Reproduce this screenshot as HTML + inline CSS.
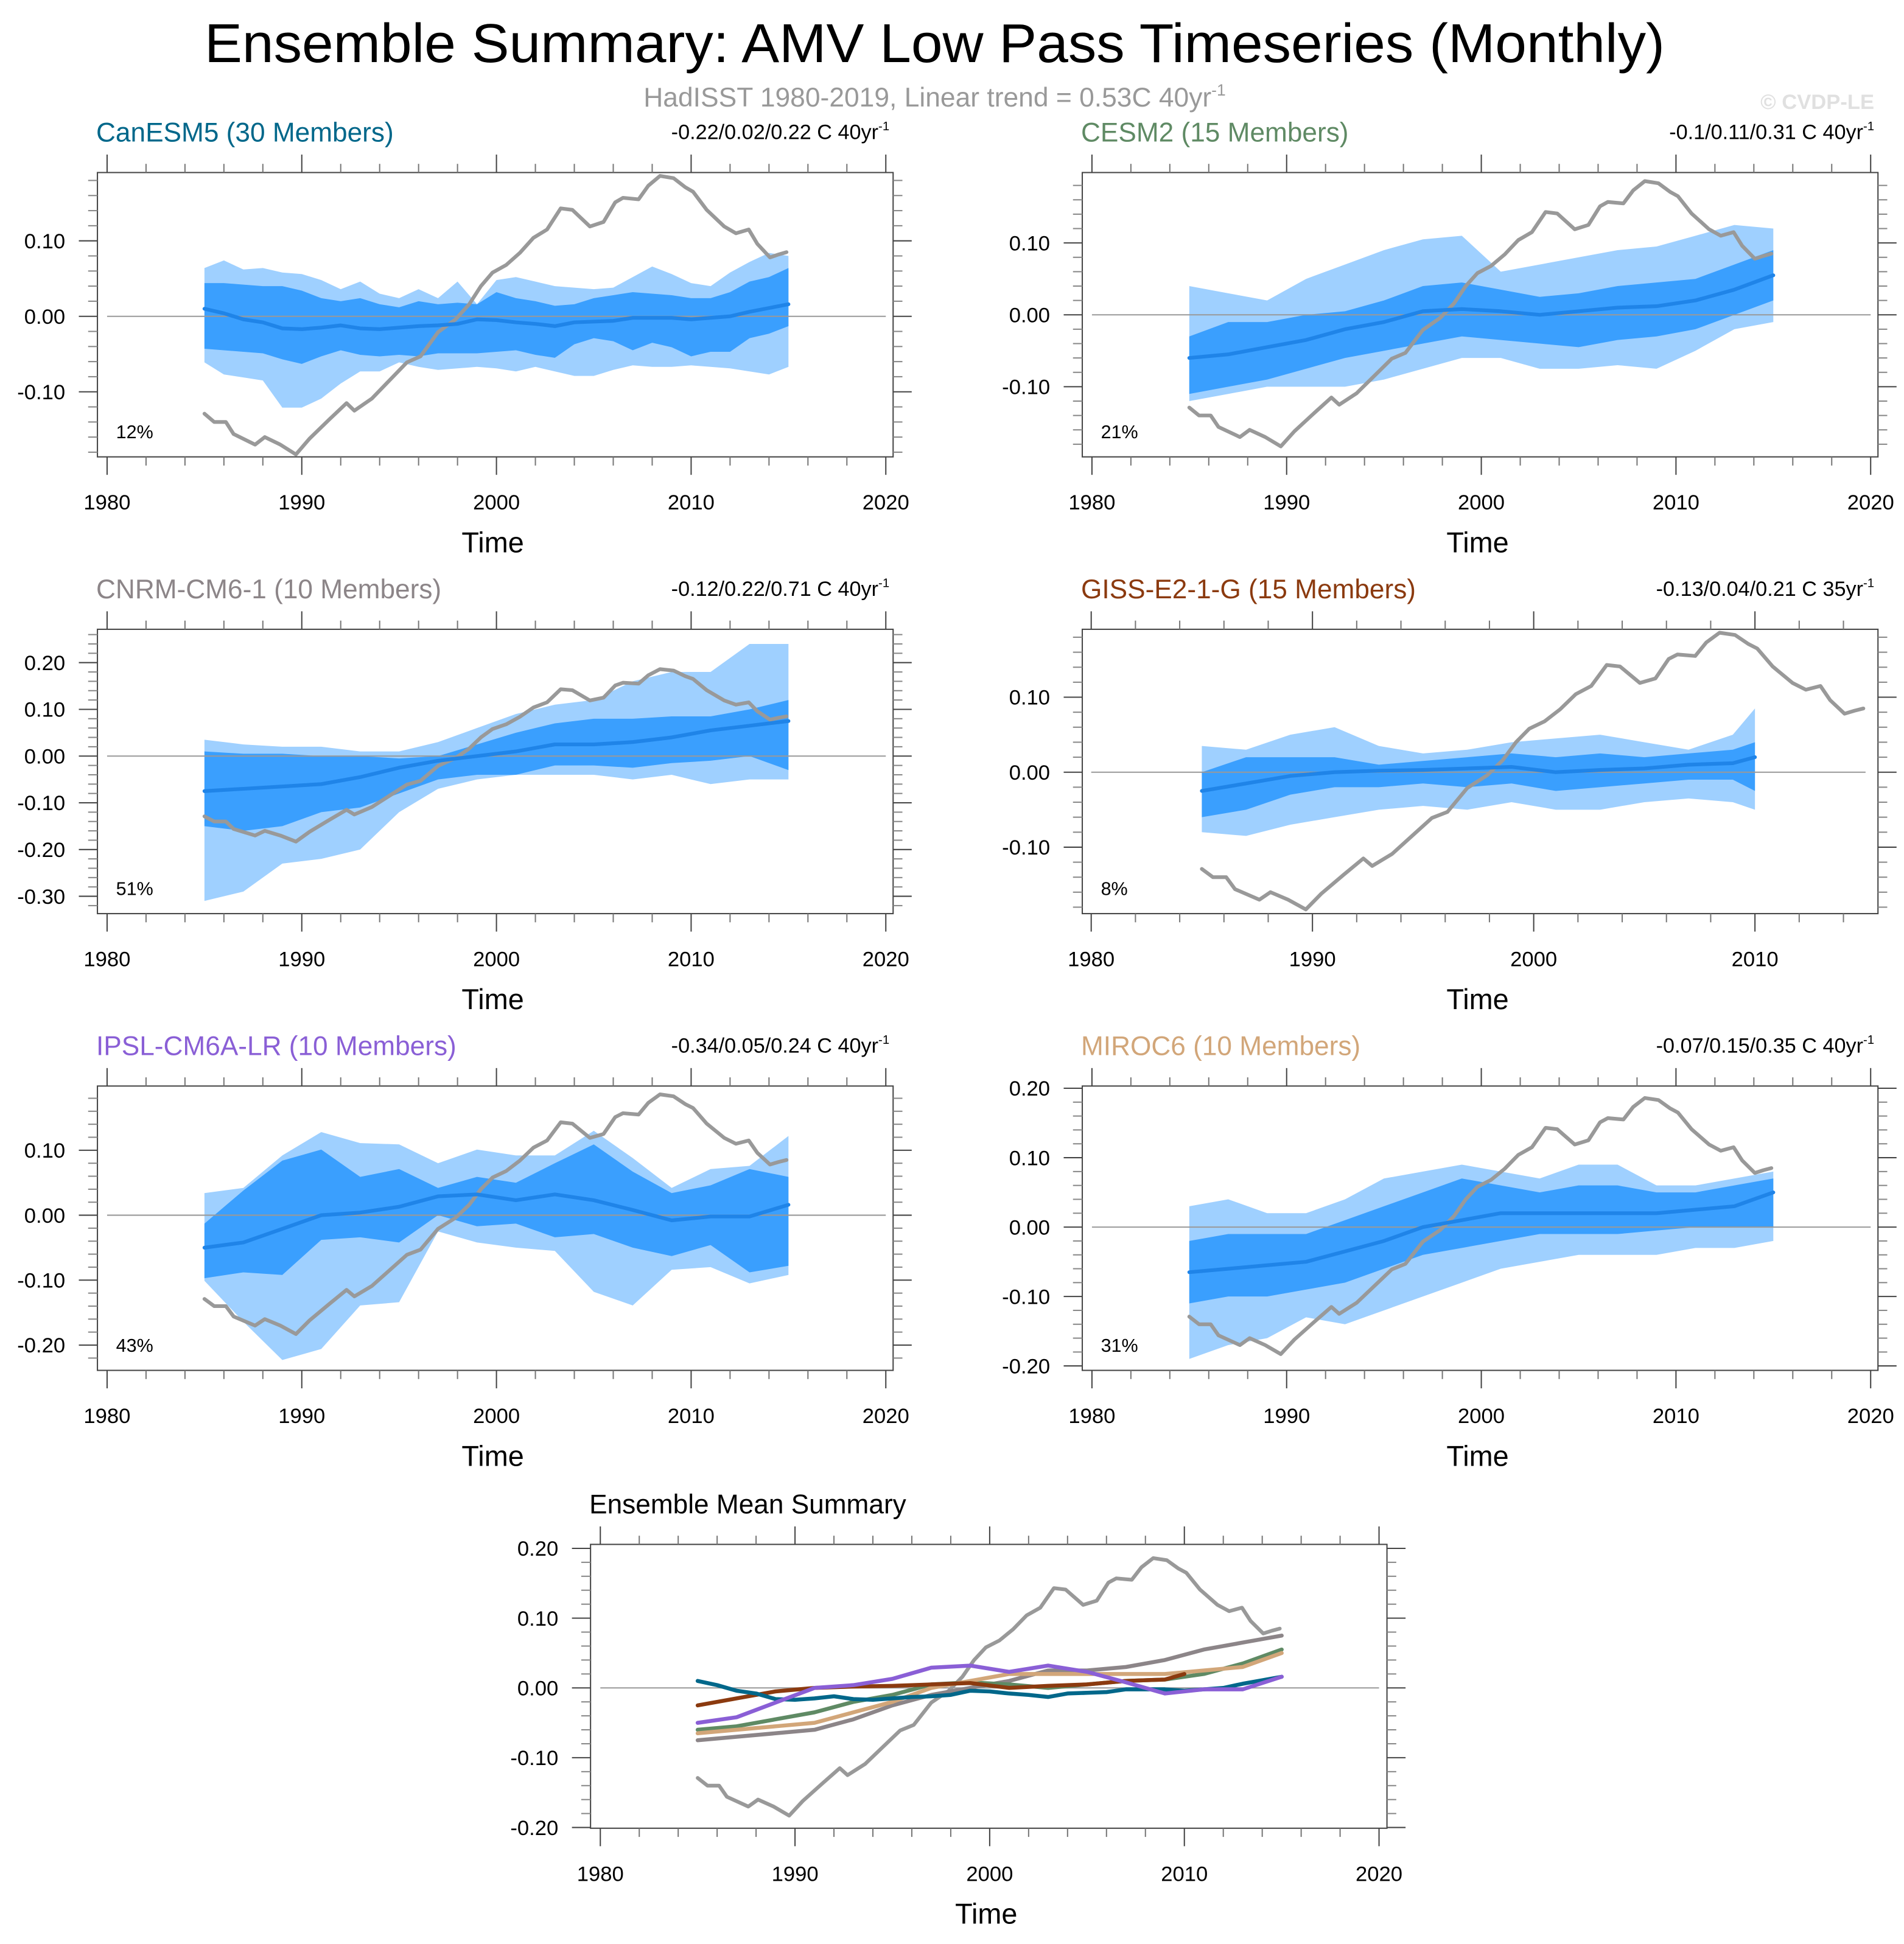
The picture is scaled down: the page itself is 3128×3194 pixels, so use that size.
<!DOCTYPE html>
<html><head><meta charset="utf-8"><style>
html,body{margin:0;padding:0;background:#fff;}
svg{display:block;}
text{font-family:"Liberation Sans",Arial,sans-serif;}
</style></head><body>
<svg id="fig" xmlns="http://www.w3.org/2000/svg" width="3128" height="3194" viewBox="0 0 1536 1568.4" preserveAspectRatio="none">
<text x="754" y="50" font-size="44" text-anchor="middle" textLength="1178" lengthAdjust="spacingAndGlyphs">Ensemble Summary: AMV Low Pass Timeseries (Monthly)</text>
<text x="754" y="86" font-size="21.8" fill="#999" text-anchor="middle">HadISST 1980-2019, Linear trend = 0.53C 40yr<tspan font-size="13" dy="-9">-1</tspan></text>
<text x="1512" y="88" font-size="17" font-weight="bold" fill="#e0e0e0" text-anchor="end">© CVDP-LE</text>
<g id="root"></g>
</svg>
<script>
// Observations (HadISST)
const obsYears=[1985,1985.5,1986.1,1986.5,1987.6,1988.1,1988.9,1989.7,1990.4,1991.4,1992.3,1992.7,1993.6,1994.5,1995.4,1996.1,1997,1997.9,1998.6,1999.2,1999.8,2000.5,2001.2,2001.9,2002.6,2003.3,2003.9,2004.8,2005.5,2006.1,2006.5,2007.3,2007.8,2008.4,2009.1,2009.7,2010.1,2010.8,2011.7,2012.3,2012.96,2013.4,2014.05,2014.5,2014.9];
const obsValues=[-0.129,-0.140,-0.140,-0.156,-0.170,-0.160,-0.170,-0.183,-0.162,-0.137,-0.115,-0.125,-0.109,-0.085,-0.061,-0.053,-0.021,-0.004,0.016,0.040,0.058,0.068,0.084,0.104,0.115,0.143,0.141,0.119,0.125,0.151,0.157,0.155,0.173,0.186,0.183,0.171,0.165,0.141,0.119,0.110,0.115,0.096,0.078,0.082,0.085];

// CanESM5
const canYears=[1985,1986,1987,1988,1989,1990,1991,1992,1993,1994,1995,1996,1997,1998,1999,2000,2001,2002,2003,2004,2005,2006,2007,2008,2009,2010,2011,2012,2013,2014,2015];
const canOuterHi=[0.064,0.074,0.062,0.064,0.058,0.056,0.048,0.036,0.046,0.030,0.024,0.036,0.024,0.046,0.016,0.048,0.052,0.046,0.040,0.038,0.036,0.038,0.052,0.066,0.056,0.044,0.040,0.058,0.072,0.084,0.080];
const canInnerHi=[0.044,0.044,0.042,0.040,0.040,0.034,0.024,0.020,0.024,0.016,0.012,0.020,0.016,0.018,0.016,0.032,0.024,0.020,0.014,0.016,0.024,0.028,0.032,0.030,0.028,0.024,0.024,0.032,0.046,0.052,0.064];
const canMean=[0.010,0.004,-0.004,-0.008,-0.016,-0.017,-0.015,-0.012,-0.016,-0.017,-0.015,-0.013,-0.012,-0.010,-0.004,-0.005,-0.008,-0.010,-0.013,-0.008,-0.007,-0.006,-0.002,-0.002,-0.002,-0.004,-0.002,0.000,0.006,0.011,0.016];
const canInnerLo=[-0.043,-0.045,-0.047,-0.049,-0.057,-0.063,-0.053,-0.045,-0.051,-0.053,-0.051,-0.053,-0.049,-0.049,-0.049,-0.047,-0.045,-0.051,-0.055,-0.037,-0.029,-0.033,-0.045,-0.035,-0.041,-0.053,-0.047,-0.047,-0.029,-0.023,-0.013];
const canOuterLo=[-0.061,-0.077,-0.081,-0.085,-0.121,-0.121,-0.109,-0.089,-0.073,-0.073,-0.061,-0.067,-0.071,-0.069,-0.067,-0.069,-0.073,-0.067,-0.073,-0.079,-0.079,-0.071,-0.065,-0.067,-0.067,-0.065,-0.067,-0.069,-0.073,-0.077,-0.067];

// Biennial years used for other models
const biYears=[1985,1987,1989,1991,1993,1995,1997,1999,2001,2003,2005,2007,2009,2011,2013,2015];

// CESM2
const cesmMean=[-0.060,-0.055,-0.045,-0.035,-0.020,-0.010,0.005,0.008,0.005,0.000,0.005,0.010,0.012,0.020,0.035,0.055];
const cesmInnerHi=[-0.030,-0.010,-0.010,0.000,0.005,0.020,0.040,0.045,0.035,0.025,0.030,0.040,0.045,0.050,0.070,0.090];
const cesmInnerLo=[-0.110,-0.100,-0.090,-0.075,-0.060,-0.050,-0.040,-0.030,-0.035,-0.040,-0.045,-0.035,-0.030,-0.020,0.000,0.020];
const cesmOuterHi=[0.040,0.030,0.020,0.050,0.070,0.090,0.105,0.110,0.060,0.070,0.080,0.090,0.095,0.110,0.125,0.120];
const cesmOuterLo=[-0.120,-0.110,-0.100,-0.100,-0.100,-0.090,-0.075,-0.060,-0.060,-0.075,-0.075,-0.070,-0.075,-0.050,-0.020,-0.010];

// CNRM-CM6-1
const cnrmMean=[-0.075,-0.070,-0.065,-0.060,-0.045,-0.025,-0.010,0.000,0.010,0.025,0.025,0.030,0.040,0.055,0.065,0.075];
const cnrmInnerHi=[0.010,0.005,0.005,0.000,0.000,-0.005,0.000,0.025,0.050,0.070,0.080,0.080,0.085,0.085,0.100,0.120];
const cnrmInnerLo=[-0.150,-0.160,-0.150,-0.120,-0.110,-0.080,-0.050,-0.040,-0.040,-0.020,-0.020,-0.025,-0.015,-0.010,0.000,-0.030];
const cnrmOuterHi=[0.035,0.025,0.020,0.020,0.010,0.010,0.030,0.060,0.090,0.110,0.120,0.160,0.180,0.180,0.240,0.240];
const cnrmOuterLo=[-0.310,-0.290,-0.230,-0.220,-0.200,-0.120,-0.070,-0.050,-0.040,-0.040,-0.040,-0.050,-0.040,-0.060,-0.050,-0.050];

// GISS-E2-1-G
const gissYears=[1985,1987,1989,1991,1993,1995,1997,1999,2001,2003,2005,2007,2009,2010];
const gissMean=[-0.025,-0.015,-0.005,0.000,0.002,0.003,0.005,0.007,0.000,0.003,0.005,0.010,0.012,0.020];
const gissInnerHi=[0.000,0.020,0.020,0.020,0.010,0.015,0.020,0.025,0.020,0.025,0.020,0.025,0.030,0.040];
const gissInnerLo=[-0.060,-0.050,-0.030,-0.020,-0.020,-0.015,-0.020,-0.015,-0.025,-0.020,-0.015,-0.010,-0.010,-0.025];
const gissOuterHi=[0.035,0.030,0.050,0.060,0.035,0.025,0.030,0.040,0.045,0.050,0.040,0.030,0.050,0.085];
const gissOuterLo=[-0.080,-0.085,-0.070,-0.060,-0.050,-0.045,-0.050,-0.040,-0.050,-0.050,-0.040,-0.035,-0.040,-0.050];

// IPSL-CM6A-LR
const ipslMean=[-0.050,-0.042,-0.021,0.000,0.004,0.013,0.029,0.032,0.023,0.032,0.023,0.008,-0.008,-0.002,-0.002,0.016];
const ipslInnerHi=[-0.013,0.038,0.084,0.101,0.059,0.071,0.042,0.059,0.050,0.080,0.109,0.067,0.034,0.046,0.071,0.059];
const ipslInnerLo=[-0.097,-0.088,-0.092,-0.038,-0.034,-0.042,0.000,-0.017,-0.013,-0.034,-0.029,-0.050,-0.063,-0.046,-0.088,-0.078];
const ipslOuterHi=[0.034,0.042,0.092,0.128,0.111,0.109,0.080,0.101,0.092,0.092,0.130,0.088,0.042,0.071,0.076,0.122];
const ipslOuterLo=[-0.101,-0.164,-0.223,-0.206,-0.139,-0.134,-0.025,-0.042,-0.050,-0.055,-0.118,-0.139,-0.084,-0.080,-0.105,-0.092];

// MIROC6
const mirocMean=[-0.065,-0.060,-0.055,-0.050,-0.035,-0.020,0.000,0.010,0.020,0.020,0.020,0.020,0.020,0.025,0.030,0.050];
const mirocInnerHi=[-0.020,-0.010,-0.010,-0.010,0.010,0.030,0.050,0.070,0.060,0.050,0.060,0.060,0.050,0.050,0.060,0.070];
const mirocInnerLo=[-0.110,-0.100,-0.100,-0.090,-0.080,-0.060,-0.040,-0.030,-0.020,-0.010,-0.010,-0.010,-0.005,0.000,0.000,0.000];
const mirocOuterHi=[0.030,0.040,0.020,0.020,0.040,0.070,0.080,0.090,0.080,0.070,0.090,0.090,0.060,0.060,0.070,0.080];
const mirocOuterLo=[-0.190,-0.170,-0.160,-0.130,-0.140,-0.120,-0.100,-0.080,-0.060,-0.050,-0.040,-0.040,-0.040,-0.030,-0.030,-0.020];

const NS='http://www.w3.org/2000/svg';
const root=document.getElementById('root');
function mk(tag,attrs,parent){const e=document.createElementNS(NS,tag);for(const k in attrs)e.setAttribute(k,attrs[k]);(parent||root).appendChild(e);return e;}

function drawPanel(cfg){
  const g=mk('g',{});
  
  
  const xs=yr=>cfg.px0+(yr-cfg.yr0)*(cfg.px1-cfg.px0)/(cfg.yr1-cfg.yr0);
  const ys=v=>cfg.zero-v*cfg.per/0.1;
  const box=mk('rect',{x:cfg.bx0,y:cfg.by0,width:cfg.bx1-cfg.bx0,height:cfg.by1-cfg.by0,fill:'none',stroke:'#444','stroke-width':1},g);
  
  
  function band(yrs,hi,lo,color,nm){
    let d='';
    yrs.forEach((y,i)=>{d+=(i?'L':'M')+xs(y).toFixed(2)+','+ys(hi[i]).toFixed(2);});
    for(let i=yrs.length-1;i>=0;i--)d+='L'+xs(yrs[i]).toFixed(2)+','+ys(lo[i]).toFixed(2);
    const p=mk('path',{d:d+'Z',fill:color,stroke:'none'},g);
    
    
  }
  function line(yrs,vals,color,w,nm){
    const d=yrs.map((y,i)=>(i?'L':'M')+xs(y).toFixed(2)+','+ys(vals[i]).toFixed(2)).join('');
    const p=mk('path',{d:d,fill:'none',stroke:color,'stroke-width':w,'stroke-linejoin':'round','stroke-linecap':'round'},g);
    
    
  }
  if(cfg.outerHi){
    band(cfg.years,cfg.outerHi,cfg.outerLo,'#9fd0ff',cfg.name+'-outer-spread');
    band(cfg.years,cfg.innerHi,cfg.innerLo,'#3a9ffe',cfg.name+'-inner-spread');
  }
  const z=mk('line',{x1:xs(1980),x2:xs(cfg.yr1),y1:ys(0),y2:ys(0),stroke:'#999','stroke-width':1},g);
  
  
  if(cfg.lines){
    line(obsYears,obsValues,'#999',3,cfg.name+'-obs-line');
    cfg.lines.forEach(l=>line(l.years,l.vals,l.color,3.2,l.nm));
  } else {
    line(obsYears,obsValues,'#999',3,cfg.name+'-obs-line');
    line(cfg.years,cfg.mean,'#1f84e8',3,cfg.name+'-ensemble-mean-line');
  }
  for(let yr=1980;yr<=cfg.yr1;yr+=2){
    const x=xs(yr);const major=(yr%10===0);const L=major?14.5:7;
    const c=major?'#444':'#777';
    mk('line',{x1:x,x2:x,y1:cfg.by0,y2:cfg.by0-L,stroke:c,'stroke-width':1},g);
    mk('line',{x1:x,x2:x,y1:cfg.by1,y2:cfg.by1+L,stroke:c,'stroke-width':1},g);
    if(major){
      const t=mk('text',{x:x,y:cfg.by1+42.5,'font-size':17,'text-anchor':'middle'},g);
      t.textContent=String(yr);
      
      
    }
  }
  const vmin=(cfg.zero-cfg.by1)*0.1/cfg.per, vmax=(cfg.zero-cfg.by0)*0.1/cfg.per;
  for(let k=Math.ceil(vmin/0.02-1e-6);k<=Math.floor(vmax/0.02+1e-6);k++){
    const v=k*0.02;const y=ys(v);const major=(k%5===0);const L=major?15:7.5;
    const c=major?'#444':'#888';
    mk('line',{x1:cfg.bx0,x2:cfg.bx0-L,y1:y,y2:y,stroke:c,'stroke-width':1},g);
    mk('line',{x1:cfg.bx1,x2:cfg.bx1+L,y1:y,y2:y,stroke:c,'stroke-width':1},g);
    if(major){
      const t=mk('text',{x:cfg.bx0-26,y:y+6,'font-size':17,'text-anchor':'end'},g);
      t.textContent=v.toFixed(2).replace('-0.00','0.00');
      
      
    }
  }
  const tt=mk('text',{x:(cfg.bx0+cfg.bx1)/2-2,y:cfg.by1+77,'font-size':23,'text-anchor':'middle'},g);
  tt.textContent='Time';
  
  
  const ti=mk('text',{x:cfg.bx0-1,y:cfg.by0-25,'font-size':21.7,fill:cfg.titleColor},g);
  ti.textContent=cfg.title;
  
  
  if(cfg.trend){
    const tr=mk('text',{x:cfg.bx1-3,y:cfg.by0-27,'font-size':16.8,'text-anchor':'end'},g);
    tr.innerHTML=cfg.trend+'<tspan font-size="10" dy="-7">-1</tspan>';
    
    
  }
  if(cfg.pct){
    const pc=mk('text',{x:cfg.bx0+15,y:cfg.by1-15,'font-size':15},g);
    pc.textContent=cfg.pct;
    
    
  }
}

const L0={bx0:78.6,bx1:720.5,px0:86.4,px1:714.6};
const R0={bx0:873.1,bx1:1515,px0:880.9,px1:1509.1};
const rowY=[139.2,507.7,876.2];const H=229.4;

drawPanel(Object.assign({},L0,{name:'canesm5',yr0:1980,yr1:2020,by0:rowY[0],by1:rowY[0]+H,zero:255.2,per:60.9,title:'CanESM5 (30 Members)',titleColor:'#00678a',trend:'-0.22/0.02/0.22 C 40yr',pct:'12%',years:canYears,mean:canMean,innerHi:canInnerHi,innerLo:canInnerLo,outerHi:canOuterHi,outerLo:canOuterLo}));
drawPanel(Object.assign({},R0,{name:'cesm2',yr0:1980,yr1:2020,by0:rowY[0],by1:rowY[0]+H,zero:254,per:58,title:'CESM2 (15 Members)',titleColor:'#5f8a64',trend:'-0.1/0.11/0.31 C 40yr',pct:'21%',years:biYears,mean:cesmMean,innerHi:cesmInnerHi,innerLo:cesmInnerLo,outerHi:cesmOuterHi,outerLo:cesmOuterLo}));
drawPanel(Object.assign({},L0,{name:'cnrm-cm6-1',yr0:1980,yr1:2020,by0:rowY[1],by1:rowY[1]+H,zero:610,per:37.7,title:'CNRM-CM6-1 (10 Members)',titleColor:'#8c8588',trend:'-0.12/0.22/0.71 C 40yr',pct:'51%',years:biYears,mean:cnrmMean,innerHi:cnrmInnerHi,innerLo:cnrmInnerLo,outerHi:cnrmOuterHi,outerLo:cnrmOuterLo}));
drawPanel({name:'giss-e2-1-g',bx0:873.1,bx1:1515,px0:880.3,px1:1505,yr0:1980,yr1:2015,by0:rowY[1],by1:rowY[1]+H,zero:623,per:60.5,title:'GISS-E2-1-G (15 Members)',titleColor:'#8b3a0f',trend:'-0.13/0.04/0.21 C 35yr',pct:'8%',years:gissYears,mean:gissMean,innerHi:gissInnerHi,innerLo:gissInnerLo,outerHi:gissOuterHi,outerLo:gissOuterLo});
drawPanel(Object.assign({},L0,{name:'ipsl-cm6a-lr',yr0:1980,yr1:2020,by0:rowY[2],by1:rowY[2]+H,zero:980.4,per:52.4,title:'IPSL-CM6A-LR (10 Members)',titleColor:'#8a5fd6',trend:'-0.34/0.05/0.24 C 40yr',pct:'43%',years:biYears,mean:ipslMean,innerHi:ipslInnerHi,innerLo:ipslInnerLo,outerHi:ipslOuterHi,outerLo:ipslOuterLo}));
drawPanel(Object.assign({},R0,{name:'miroc6',yr0:1980,yr1:2020,by0:rowY[2],by1:rowY[2]+H,zero:990,per:56,title:'MIROC6 (10 Members)',titleColor:'#d2a679',trend:'-0.07/0.15/0.35 C 40yr',pct:'31%',years:biYears,mean:mirocMean,innerHi:mirocInnerHi,innerLo:mirocInnerLo,outerHi:mirocOuterHi,outerLo:mirocOuterLo}));
drawPanel({name:'ensemble-mean-summary',bx0:476.4,bx1:1118.9,px0:484.3,px1:1112.5,yr0:1980,yr1:2020,by0:1246,by1:1475,zero:1361.8,per:56.3,title:'Ensemble Mean Summary',titleColor:'#000',
  lines:[
    {years:biYears,vals:cnrmMean,color:'#8c8588',nm:'cnrm-mean-line'},
    {years:biYears,vals:cesmMean,color:'#5f8a64',nm:'cesm2-mean-line'},
    {years:biYears,vals:mirocMean,color:'#d2a679',nm:'miroc6-mean-line'},
    {years:gissYears,vals:gissMean,color:'#8b3a0f',nm:'giss-mean-line'},
    {years:canYears,vals:canMean,color:'#00678a',nm:'canesm5-mean-line'},
    {years:biYears,vals:ipslMean,color:'#8a5fd6',nm:'ipsl-mean-line'}
  ]});
</script>
</body></html>
